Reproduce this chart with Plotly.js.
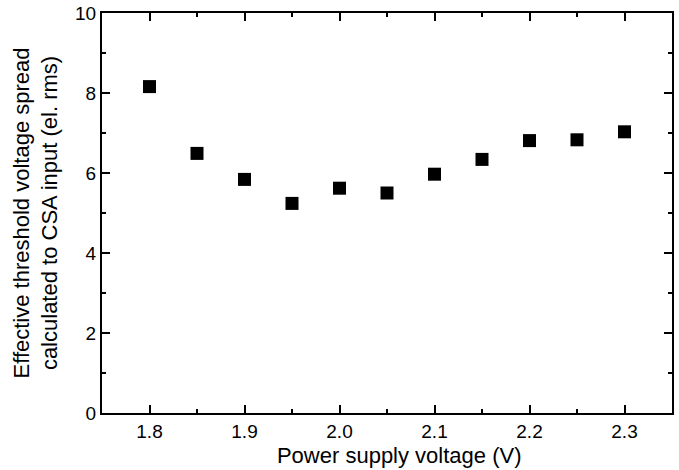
<!DOCTYPE html>
<html>
<head>
<meta charset="utf-8">
<script src="https://cdn.plot.ly/plotly-3.0.1.min.js"></script>
<style>html,body{margin:0;padding:0;background:#fff;}#chart{width:679px;height:470px;}</style>
</head>
<body>
<div id="chart"></div>
<script>
const voltage = [1.80, 1.85, 1.90, 1.95, 2.00, 2.05, 2.10, 2.15, 2.20, 2.25, 2.30];
const spread = [8.16, 6.49, 5.84, 5.24, 5.62, 5.50, 5.97, 6.34, 6.81, 6.83, 7.03];
const xTitle = '&nbsp;&nbsp;&nbsp;&nbsp;Power supply voltage (V)';
const yTitle = 'Effective threshold voltage spread<br>calculated to CSA input (el. rms)';

const fam = 'Liberation Sans, Arial, sans-serif';
const tickFont = {family: fam, size: 19, color: '#000'};
const titleFont = {family: fam, size: 22, color: '#000'};
const axisCommon = {
  showline: true, mirror: 'ticks', linecolor: '#000', linewidth: 2,
  ticks: 'inside', ticklen: 8, tickwidth: 2, tickcolor: '#000',
  showgrid: false, zeroline: false, tickfont: tickFont
};
Plotly.newPlot('chart', [{
  x: voltage, y: spread, type: 'scatter', mode: 'markers',
  marker: {symbol: 'square', size: 13, color: '#000'}
}], {
  width: 679, height: 470,
  margin: {l: 102, r: 7, t: 13, b: 57},
  paper_bgcolor: '#fff', plot_bgcolor: '#fff',
  showlegend: false,
  font: tickFont,
  xaxis: Object.assign({}, axisCommon, {
    range: [1.75, 2.35], tickvals: [1.8, 1.9, 2.0, 2.1, 2.2, 2.3],
    ticktext: ['1.8', '1.9', '2.0', '2.1', '2.2', '2.3'],
    minor: {tickvals: [1.75, 1.85, 1.95, 2.05, 2.15, 2.25, 2.35], ticklen: 4, tickwidth: 2, tickcolor: '#000', ticks: 'inside'},
    title: {text: xTitle, font: titleFont, standoff: 7}
  }),
  yaxis: Object.assign({}, axisCommon, {
    range: [0, 10], tickvals: [0, 2, 4, 6, 8, 10],
    minor: {tickvals: [1, 3, 5, 7, 9], ticklen: 4, tickwidth: 2, tickcolor: '#000', ticks: 'inside'},
    title: {text: yTitle, font: titleFont, standoff: 11}
  })
}, {displayModeBar: false, staticPlot: true});
</script>
</body>
</html>
